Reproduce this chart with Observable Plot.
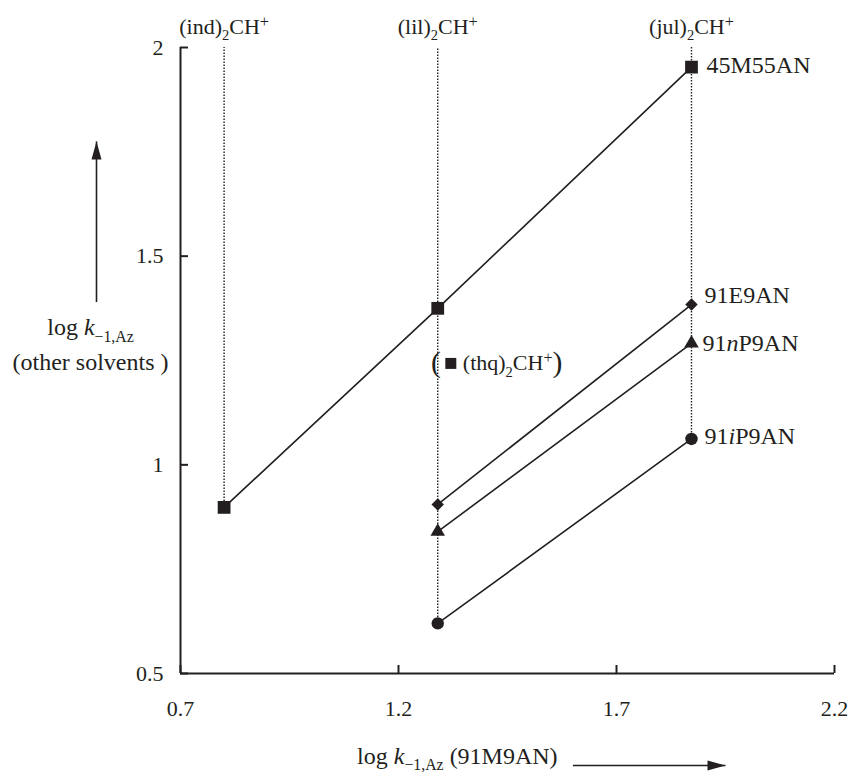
<!DOCTYPE html>
<html>
<head>
<meta charset="utf-8">
<script src="https://cdn.jsdelivr.net/npm/d3@7"></script>
<script src="https://cdn.jsdelivr.net/npm/@observablehq/plot@0.6"></script>
<style>
  html, body { margin: 0; padding: 0; background: #fff; }
  #chart { width: 854px; height: 772px; }
</style>
</head>
<body>
<div id="chart"></div>
<script>
// ---------- data ----------
const cationNames = ["(ind)_{2}CH^{+}", "(lil)_{2}CH^{+}", "(jul)_{2}CH^{+}"];
const cationX = [0.80, 1.29, 1.872];           // log k-1,Az (91M9AN)

const seriesNames = ["45M55AN", "91E9AN", "91*{n}P9AN", "91*{i}P9AN"];
const s45M55AN = [0.898, 1.375, 1.953];         // values at ind, lil, jul
const s91E9AN  = [null, 0.905, 1.384];
const s91nP9AN = [null, 0.840, 1.291];
const s91iP9AN = [null, 0.620, 1.062];
const seriesValues = [s45M55AN, s91E9AN, s91nP9AN, s91iP9AN];

const thqName = "(thq)_{2}CH^{+}";
const thqX = [1.32];
const thqY = [1.243];

const xTicks = [0.7, 1.2, 1.7, 2.2];
const yTicks = [0.5, 1, 1.5, 2];

const xLabel = "log *{k}_{−1,Az} (91M9AN)";
const yLabel1 = "log *{k}_{−1,Az}";
const yLabel2 = "(other solvents )";

// ---------- styles ----------
const INK = "#231f20";
const FONT = "Liberation Serif, Times New Roman, serif";
const FS_TICK = 22;
const FS_TOP = 22;
const FS_SER = 24;
const FS_TITLE = 24;
const seriesStyle = [
  {symbol: "square",   r: 7.2, dx: 15, dy: -2},
  {symbol: "diamond2", r: 5.6, dx: 13, dy: -9},
  {symbol: "triangle", r: 5.4, dx: 11, dy: 0},
  {symbol: "circle",   r: 6.2, dx: 13, dy: -3}
];
// filled, narrow arrow head (tip at the origin, pointing up)
const arrowHead = {draw(ctx) { ctx.moveTo(0, 0); ctx.lineTo(-5, 18); ctx.lineTo(5, 18); ctx.closePath(); }};

// ---------- build tables ----------
const rows = [];
seriesValues.forEach((vals, i) => {
  vals.forEach((v, j) => {
    if (v != null) rows.push({series: seriesNames[i], si: i, x: cationX[j], y: v});
  });
});
const cations = cationNames.map((name, j) => ({
  name, x: cationX[j],
  low: d3.min(rows.filter(r => r.x === cationX[j]), r => r.y)
}));
const lastPoints = seriesNames.map((s, i) => {
  const pts = rows.filter(r => r.si === i);
  return pts[pts.length - 1];
});
const thq = [{x: thqX[0], y: thqY[0]}];

const xDom = [xTicks[0], xTicks[xTicks.length - 1]];
const yDom = [yTicks[0], yTicks[yTicks.length - 1]];

// annotation placement for the axis titles
const yArrow = [{x: xDom[0], y1: 1.39, y2: 1.775}];
const xArrow = [{y: yDom[0], x1: 1.60, x2: 1.95}];

const marks = [
  // dotted guides
  Plot.ruleX(cations, {x: "x", y1: "low", y2: yDom[1], insetTop: -6,
    stroke: INK, strokeWidth: 1.4, strokeDasharray: "1.5,1.5"}),
  // axis lines
  Plot.ruleX([xDom[0]], {stroke: INK, strokeWidth: 2}),
  Plot.ruleY([yDom[0]], {stroke: INK, strokeWidth: 2}),
  // inward ticks
  Plot.ruleY(yTicks, {y: d => d, x1: xDom[0], x2: xDom[0], insetRight: -8, stroke: INK, strokeWidth: 2}),
  Plot.ruleX(xTicks, {x: d => d, y1: yDom[0], y2: yDom[0], insetTop: -8, stroke: INK, strokeWidth: 2}),
  // tick labels
  Plot.axisX(xTicks, {tickSize: 0, tickPadding: 27, label: null, fontSize: FS_TICK, fill: INK, tickFormat: d => String(d)}),
  Plot.axisY(yTicks, {tickSize: 0, tickPadding: 17, label: null, fontSize: FS_TICK, fill: INK, tickFormat: d => String(d)}),
  // series lines
  Plot.line(rows, {x: "x", y: "y", z: "series", stroke: INK, strokeWidth: 1.6}),
];
seriesNames.forEach((s, i) => {
  const st = seriesStyle[i];
  marks.push(Plot.dot(rows.filter(r => r.si === i), {x: "x", y: "y", symbol: st.symbol, r: st.r, fill: INK, stroke: "none"}));
  marks.push(Plot.text([lastPoints[i]], {x: "x", y: "y", text: d => d.series, dx: st.dx, dy: st.dy,
    textAnchor: "start", fontSize: FS_SER, fill: INK}));
});
marks.push(
  // cation labels at the top
  Plot.text(cations, {x: "x", text: "name", frameAnchor: "top", dy: -29, fontSize: FS_TOP, fill: INK}),
  // thq point
  Plot.dot(thq, {x: "x", y: "y", symbol: "square", r: 6.2, fill: INK, stroke: "none"}),
  Plot.text(thq, {x: "x", y: "y", text: d => "!{(}", dx: -10, textAnchor: "end", fontSize: FS_TOP, fill: INK}),
  Plot.text(thq, {x: "x", y: "y", text: d => thqName + "!{)}", dx: 12, textAnchor: "start", fontSize: FS_TOP, fill: INK}),
  // y axis title with arrow
  Plot.link(yArrow, {x1: "x", x2: "x", y1: "y1", y2: "y2", dx: -84, stroke: INK, strokeWidth: 1.6}),
  Plot.dot(yArrow, {x: "x", y: "y2", dx: -84, symbol: arrowHead, fill: INK, stroke: "none"}),
  Plot.text([yLabel1], {text: d => d, y: 1.33, frameAnchor: "left", dx: -90, textAnchor: "middle", fontSize: FS_TITLE, fill: INK}),
  Plot.text([yLabel2], {text: d => d, y: 1.245, frameAnchor: "left", dx: -90, textAnchor: "middle", fontSize: FS_TITLE, fill: INK}),
  // x axis title with arrow
  Plot.text([xLabel], {text: d => d, x: 1.335, frameAnchor: "bottom", dy: 90, fontSize: FS_TITLE, fill: INK}),
  Plot.link(xArrow, {x1: "x1", x2: "x2", y1: "y", y2: "y", dy: 92, stroke: INK, strokeWidth: 1.6}),
  Plot.dot(xArrow, {x: "x2", y: "y", dy: 92, rotate: 90, symbol: arrowHead, fill: INK, stroke: "none"})
);

const svg = Plot.plot({
  width: 854,
  height: 772,
  marginLeft: 180,
  marginRight: 20,
  marginTop: 47,
  marginBottom: 99,
  x: {domain: xDom},
  y: {domain: yDom},
  style: {fontFamily: FONT, fontSize: FS_TICK + "px", background: "#fff", color: INK, overflow: "visible"},
  marks
});

// ---------- rich text: _{sub} ^{sup} *{italic} !{large} ----------
const NS = "http://www.w3.org/2000/svg";
svg.querySelectorAll("text").forEach(t => {
  const s = t.textContent;
  if (!/[_^*!]\{/.test(s)) return;
  let fs = parseFloat(t.getAttribute("font-size"));
  if (!fs && t.parentNode) fs = parseFloat(t.parentNode.getAttribute("font-size"));
  if (!fs) fs = FS_TICK;
  t.textContent = "";
  let shift = 0;
  const re = /([_^*!])\{([^}]*)\}|([^_^*!]+|[_^*!])/g;
  for (const m of s.matchAll(re)) {
    const ts = document.createElementNS(NS, "tspan");
    let target = 0;
    if (m[1] === "_") { target = 0.28 * fs; ts.setAttribute("font-size", (0.66 * fs).toFixed(1)); }
    else if (m[1] === "^") { target = -0.33 * fs; ts.setAttribute("font-size", (0.74 * fs).toFixed(1)); }
    else if (m[1] === "*") { ts.setAttribute("font-style", "italic"); }
    else if (m[1] === "!") { ts.setAttribute("font-size", (1.35 * fs).toFixed(1)); target = 0.08 * fs; }
    ts.setAttribute("dy", (target - shift).toFixed(2));
    shift = target;
    ts.textContent = m[1] ? m[2] : m[3];
    t.appendChild(ts);
  }
});

document.getElementById("chart").appendChild(svg);
</script>
</body>
</html>
